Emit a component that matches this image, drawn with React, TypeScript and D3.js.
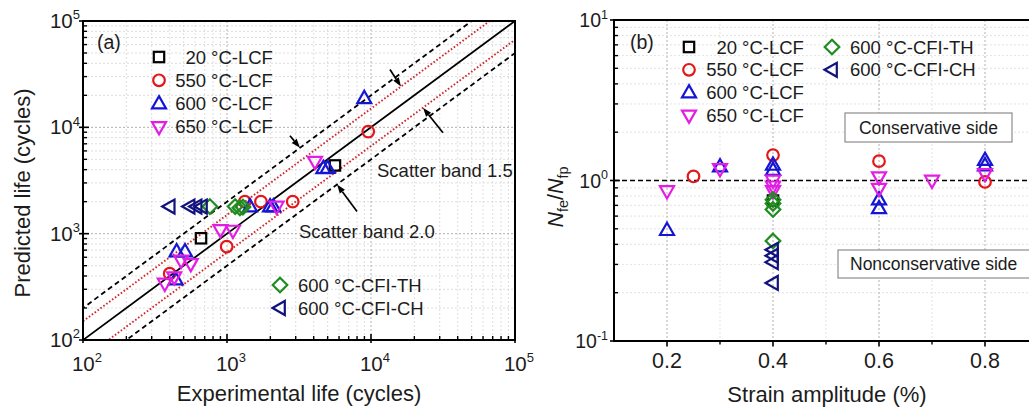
import React from 'react';
import * as d3 from 'd3';

const W = 1029;
const H = 414;
const FONT = 'Arial, "Liberation Sans", Helvetica, sans-serif';

// (a) experimental life vs predicted life, [Nfe, Nfp]
const lcf20A = [[660, 905], [5620, 4380]];
const lcf550A = [[400, 420], [995, 755], [1330, 2000], [1720, 2000], [2860, 2000], [9570, 9120]];
const lcf600A = [[440, 370], [447, 680], [511, 680], [1445, 1795], [1990, 1795], [2100, 1795], [4670, 4120], [5000, 4130], [8980, 18750]];
const lcf650A = [[370, 340], [430, 390], [480, 560], [560, 520], [900, 1085], [1100, 1070], [2210, 1800], [4080, 4760]];
const cfiThA = [[760, 1800], [1140, 1800], [1230, 1750], [1290, 1780]];
const cfiChA = [[400, 1800], [550, 1800], [615, 1800], [670, 1800]];

// (b) strain amplitude vs Nfe/Nfp
const lcf20B = [[0.4, 0.75]];
const lcf550B = [[0.25, 1.06], [0.4, 1.44], [0.6, 1.32], [0.8, 0.98]];
const lcf600B = [[0.2, 0.49], [0.3, 1.22], [0.4, 1.25], [0.4, 1.16], [0.6, 0.76], [0.6, 0.67], [0.8, 1.34], [0.8, 1.24]];
const lcf650B = [[0.2, 0.86], [0.3, 1.18], [0.4, 1.0], [0.4, 0.92], [0.4, 0.86], [0.6, 1.05], [0.6, 0.89], [0.7, 1.0], [0.8, 1.1]];
const cfiThB = [[0.4, 0.76], [0.4, 0.72], [0.4, 0.66], [0.4, 0.42]];
const cfiChB = [[0.4, 0.37], [0.4, 0.34], [0.4, 0.31], [0.4, 0.23]];

const logTicksA = [1e2, 1e3, 1e4, 1e5];
const logTicksB = [0.1, 1, 10];
const strainTicks = [0.2, 0.4, 0.6, 0.8];
const strainMinor = [0.3, 0.5, 0.7];

// scatter band lines: Nfp = factor * Nfe
const bandFactors = [2, 1.5, 1, 1 / 1.5, 0.5];

const SERIES = [
    { temp: '20', suffix: '°C-LCF', color: '#000000', shape: 'square', a: lcf20A, b: lcf20B },
    { temp: '550', suffix: '°C-LCF', color: '#e3171b', shape: 'circle', a: lcf550A, b: lcf550B },
    { temp: '600', suffix: '°C-LCF', color: '#1515d6', shape: 'up', a: lcf600A, b: lcf600B },
    { temp: '650', suffix: '°C-LCF', color: '#e31de3', shape: 'down', a: lcf650A, b: lcf650B },
    { temp: '600', suffix: '°C-CFI-TH', color: '#1f8c1f', shape: 'diamond', a: cfiThA, b: cfiThB },
    { temp: '600', suffix: '°C-CFI-CH', color: '#12127e', shape: 'left', a: cfiChA, b: cfiChB },
];

const xA = d3.scaleLog().domain([1e2, 1e5]).range([83, 515]);
const yA = d3.scaleLog().domain([1e2, 1e5]).range([340, 21]);
const xB = d3.scaleLinear().domain([0.1, 0.9]).range([614, 1038]);
const yB = d3.scaleLog().domain([0.1, 10]).range([341, 20]);

function minorLog(lo: number, hi: number) {
    const out: number[] = [];
    for (let d = lo; d < hi; d++) {
        for (let k = 2; k <= 9; k++) out.push(k * Math.pow(10, d));
    }
    return out;
}

function Marker({ shape, x, y, color }: { shape: string; x: number; y: number; color: string }) {
    const p = { fill: 'none', stroke: color, strokeWidth: 2.2 };
    switch (shape) {
        case 'square':
            return <rect x={x - 5.2} y={y - 5.2} width={10.4} height={10.4} {...p} />;
        case 'circle':
            return <circle cx={x} cy={y} r={5.8} {...p} />;
        case 'up':
            return <polygon points={`${x},${y - 7.5} ${x + 7},${y + 4.8} ${x - 7},${y + 4.8}`} {...p} />;
        case 'down':
            return <polygon points={`${x},${y + 7.5} ${x + 7},${y - 4.8} ${x - 7},${y - 4.8}`} {...p} />;
        case 'diamond':
            return <polygon points={`${x},${y - 7.3} ${x + 7.3},${y} ${x},${y + 7.3} ${x - 7.3},${y}`} {...p} />;
        case 'left':
            return <polygon points={`${x - 7.5},${y} ${x + 4.8},${y - 7} ${x + 4.8},${y + 7}`} {...p} />;
        default:
            return null;
    }
}

function Arrow({ x1, y1, x2, y2 }: { x1: number; y1: number; x2: number; y2: number }) {
    const a = Math.atan2(y2 - y1, x2 - x1);
    const L = 9;
    const w = 3.2;
    const bx = x2 - L * Math.cos(a);
    const by = y2 - L * Math.sin(a);
    const nx = -Math.sin(a) * w;
    const ny = Math.cos(a) * w;
    return (
        <g>
            <line x1={x1} y1={y1} x2={bx} y2={by} stroke="#000" strokeWidth={1.7} />
            <polygon points={`${x2},${y2} ${bx + nx},${by + ny} ${bx - nx},${by - ny}`} fill="#000" />
        </g>
    );
}

function Pow10({ v, x, y, anchor, size, supSize }: { v: number; x: number; y: number; anchor: string; size: number; supSize: number }) {
    const e = Math.round(Math.log10(v));
    return (
        <text x={x} y={y} textAnchor={anchor} fontSize={size}>
            10<tspan dy={-size * 0.42} fontSize={supSize}>{e}</tspan>
        </text>
    );
}

// arrows point at a band line: tip on Nfp = factor * Nfe, tail offset in px
const arrowsA = [
    { nfe: 3213, factor: 2, dx: -10, dy: -12 },
    { nfe: 16150, factor: 1.5, dx: -11, dy: -17 },
    { nfe: 22960, factor: 1 / 1.5, dx: 20, dy: 25 },
    { nfe: 5808, factor: 0.5, dx: 20, dy: 27 },
];

function PanelA() {
    const [x0, x1] = xA.range();
    const [y0, y1] = yA.range();
    const minor = minorLog(2, 5);
    const bandLine = d3.line<number[]>().x((d) => xA(d[0])).y((d) => yA(d[1]));
    return (
        <g>
            <defs>
                <clipPath id="clipA">
                    <rect x={x0} y={y1} width={x1 - x0} height={y0 - y1} />
                </clipPath>
            </defs>
            {/* grid */}
            {minor.map((v) => (
                <g key={`gm-${v}`} stroke="#d6d6d6" strokeWidth={0.8} strokeDasharray="2,2">
                    <line x1={xA(v)} x2={xA(v)} y1={y1} y2={y0} />
                    <line x1={x0} x2={x1} y1={yA(v)} y2={yA(v)} />
                </g>
            ))}
            {logTicksA.slice(1, -1).map((v) => (
                <g key={`gM-${v}`} stroke="#a8a8a8" strokeWidth={0.9} strokeDasharray="2,2">
                    <line x1={xA(v)} x2={xA(v)} y1={y1} y2={y0} />
                    <line x1={x0} x2={x1} y1={yA(v)} y2={yA(v)} />
                </g>
            ))}
            {/* band lines */}
            <g clipPath="url(#clipA)">
                {bandFactors.map((f) => {
                    const pts = [[1e2 / 2, (1e2 / 2) * f], [1e5 * 2, 1e5 * 2 * f]];
                    const isRed = f === 1.5 || f === 1 / 1.5;
                    const isSolid = f === 1;
                    return (
                        <path
                            key={`band-${f}`}
                            d={bandLine(pts) || ''}
                            fill="none"
                            stroke={isRed ? '#d0282b' : '#000'}
                            strokeWidth={isRed ? 1.9 : 1.8}
                            strokeDasharray={isSolid ? undefined : isRed ? '1.6,2' : '5,3.5'}
                        />
                    );
                })}
            </g>
            {/* data */}
            {SERIES.map((s, si) =>
                s.a.map((d, i) => (
                    <Marker key={`a-${si}-${i}`} shape={s.shape} color={s.color} x={xA(d[0])} y={yA(d[1])} />
                )),
            )}
            {/* arrows */}
            {arrowsA.map((ar, i) => {
                const tx = xA(ar.nfe);
                const ty = yA(ar.nfe * ar.factor);
                return <Arrow key={`ar-${i}`} x1={tx + ar.dx} y1={ty + ar.dy} x2={tx} y2={ty} />;
            })}
            {/* ticks */}
            {minor.map((v) => (
                <g key={`tm-${v}`} stroke="#000" strokeWidth={1.4}>
                    <line x1={xA(v)} x2={xA(v)} y1={y0} y2={y0 - 4} />
                    <line x1={x0} x2={x0 + 4} y1={yA(v)} y2={yA(v)} />
                </g>
            ))}
            {logTicksA.map((v) => (
                <g key={`tM-${v}`} stroke="#000" strokeWidth={1.6}>
                    <line x1={xA(v)} x2={xA(v)} y1={y0 + 3} y2={y0 - 6} />
                    <line x1={x0 - 4} x2={x0 + 6} y1={yA(v)} y2={yA(v)} />
                </g>
            ))}
            <rect x={x0} y={y1} width={x1 - x0} height={y0 - y1} fill="none" stroke="#000" strokeWidth={2} />
            {/* tick labels */}
            {logTicksA.map((v) => (
                <Pow10 key={`lx-${v}`} v={v} x={xA(v) + 4} y={371} anchor="middle" size={20.5} supSize={13} />
            ))}
            {logTicksA.map((v) => (
                <Pow10 key={`ly-${v}`} v={v} x={80} y={yA(v) + 7} anchor="end" size={20.5} supSize={13} />
            ))}
            {/* titles */}
            <text x={299} y={401} textAnchor="middle" fontSize={22}>Experimental life (cycles)</text>
            <text transform="translate(30,193) rotate(-90)" textAnchor="middle" fontSize={22}>Predicted life (cycles)</text>
            <text x={97} y={49} fontSize={19.5}>(a)</text>
            {/* legend */}
            {SERIES.slice(0, 4).map((s, i) => (
                <g key={`lgA-${i}`}>
                    <Marker shape={s.shape} color={s.color} x={159} y={57 + i * 23.3} />
                    <text x={206} y={57 + i * 23.3 + 6.5} textAnchor="end" fontSize={18.5}>{s.temp}</text>
                    <text x={211} y={57 + i * 23.3 + 6.5} fontSize={18.5}>{s.suffix}</text>
                </g>
            ))}
            {SERIES.slice(4).map((s, i) => (
                <g key={`lgA2-${i}`}>
                    <Marker shape={s.shape} color={s.color} x={280} y={285 + i * 23} />
                    <text x={298} y={285 + i * 23 + 6.5} fontSize={18.5}>{`${s.temp} ${s.suffix}`}</text>
                </g>
            ))}
            <text x={377} y={177} fontSize={18.5}>Scatter band 1.5</text>
            <text x={299} y={238} fontSize={18.5}>Scatter band 2.0</text>
        </g>
    );
}

function PanelB() {
    const [x0, x1] = xB.range();
    const [y0, y1] = yB.range();
    const minor = minorLog(-1, 1);
    return (
        <g>
            {/* grid */}
            {minor.map((v) => (
                <line key={`gh-${v}`} x1={x0} x2={x1} y1={yB(v)} y2={yB(v)} stroke="#dcdcdc" strokeWidth={0.8} strokeDasharray="2,2" />
            ))}
            {strainMinor.map((v) => (
                <line key={`gvm-${v}`} x1={xB(v)} x2={xB(v)} y1={y1} y2={y0} stroke="#dcdcdc" strokeWidth={0.8} strokeDasharray="2,2" />
            ))}
            {strainTicks.map((v) => (
                <line key={`gv-${v}`} x1={xB(v)} x2={xB(v)} y1={y1} y2={y0} stroke="#a8a8a8" strokeWidth={0.9} strokeDasharray="2,2" />
            ))}
            <line x1={x0} x2={x1} y1={yB(1)} y2={yB(1)} stroke="#000" strokeWidth={1.7} strokeDasharray="5,3" />
            {/* boxes */}
            <rect x={845} y={113} width={167} height={29} fill="#fff" stroke="#8c8c8c" strokeWidth={1.2} />
            <text x={928.5} y={134} textAnchor="middle" fontSize={17.5}>Conservative side</text>
            <rect x={838} y={250} width={205} height={28} fill="#fff" stroke="#8c8c8c" strokeWidth={1.2} />
            <text x={850} y={270} fontSize={17.5}>Nonconservative side</text>
            {/* data */}
            {SERIES.map((s, si) =>
                s.b.map((d, i) => (
                    <Marker key={`b-${si}-${i}`} shape={s.shape} color={s.color} x={xB(d[0])} y={yB(d[1])} />
                )),
            )}
            {/* ticks */}
            {minor.map((v) => (
                <line key={`tym-${v}`} x1={x0} x2={x0 + 4} y1={yB(v)} y2={yB(v)} stroke="#000" strokeWidth={1.4} />
            ))}
            {logTicksB.map((v) => (
                <line key={`tyM-${v}`} x1={x0 - 4} x2={x0 + 6} y1={yB(v)} y2={yB(v)} stroke="#000" strokeWidth={1.6} />
            ))}
            {strainMinor.map((v) => (
                <line key={`txm-${v}`} x1={xB(v)} x2={xB(v)} y1={y0} y2={y0 + 3.5} stroke="#000" strokeWidth={1.4} />
            ))}
            {strainTicks.map((v) => (
                <line key={`txM-${v}`} x1={xB(v)} x2={xB(v)} y1={y0} y2={y0 + 5.5} stroke="#000" strokeWidth={1.6} />
            ))}
            <rect x={x0} y={y1} width={x1 - x0} height={y0 - y1} fill="none" stroke="#000" strokeWidth={2} />
            {/* tick labels */}
            {strainTicks.map((v) => (
                <text key={`lx-${v}`} x={xB(v)} y={368} textAnchor="middle" fontSize={21.5}>{d3.format('.1f')(v)}</text>
            ))}
            {logTicksB.map((v) => (
                <Pow10 key={`ly-${v}`} v={v} x={608} y={yB(v) + 7} anchor="end" size={19.5} supSize={12.5} />
            ))}
            {/* titles */}
            <text x={827} y={402} textAnchor="middle" fontSize={22}>Strain amplitude (%)</text>
            <text transform="translate(563,197) rotate(-90)" textAnchor="middle" fontSize={21.5}>
                <tspan fontStyle="italic">N</tspan>
                <tspan fontSize={14.5} dy={5}>fe</tspan>
                <tspan dy={-5}>/</tspan>
                <tspan fontStyle="italic">N</tspan>
                <tspan fontSize={14.5} dy={5}>fp</tspan>
            </text>
            <text x={630} y={49} fontSize={19.5}>(b)</text>
            {/* legend */}
            {SERIES.slice(0, 4).map((s, i) => (
                <g key={`lgB-${i}`}>
                    <Marker shape={s.shape} color={s.color} x={689} y={47 + i * 22.8} />
                    <text x={737} y={47 + i * 22.8 + 6.5} textAnchor="end" fontSize={18.5}>{s.temp}</text>
                    <text x={742} y={47 + i * 22.8 + 6.5} fontSize={18.5}>{s.suffix}</text>
                </g>
            ))}
            {SERIES.slice(4).map((s, i) => (
                <g key={`lgB2-${i}`}>
                    <Marker shape={s.shape} color={s.color} x={832} y={47 + i * 22.8} />
                    <text x={850} y={47 + i * 22.8 + 6.5} fontSize={18.5}>{`${s.temp} ${s.suffix}`}</text>
                </g>
            ))}
        </g>
    );
}

export default function App() {
    return (
        <svg
            width={W}
            height={H}
            viewBox={`0 0 ${W} ${H}`}
            style={{ position: 'absolute', left: 0, top: 0, background: '#fff' }}
            fontFamily={FONT}
            fill="#1c1c1c"
        >
            <rect x={0} y={0} width={W} height={H} fill="#fff" />
            <PanelA />
            <PanelB />
        </svg>
    );
}
